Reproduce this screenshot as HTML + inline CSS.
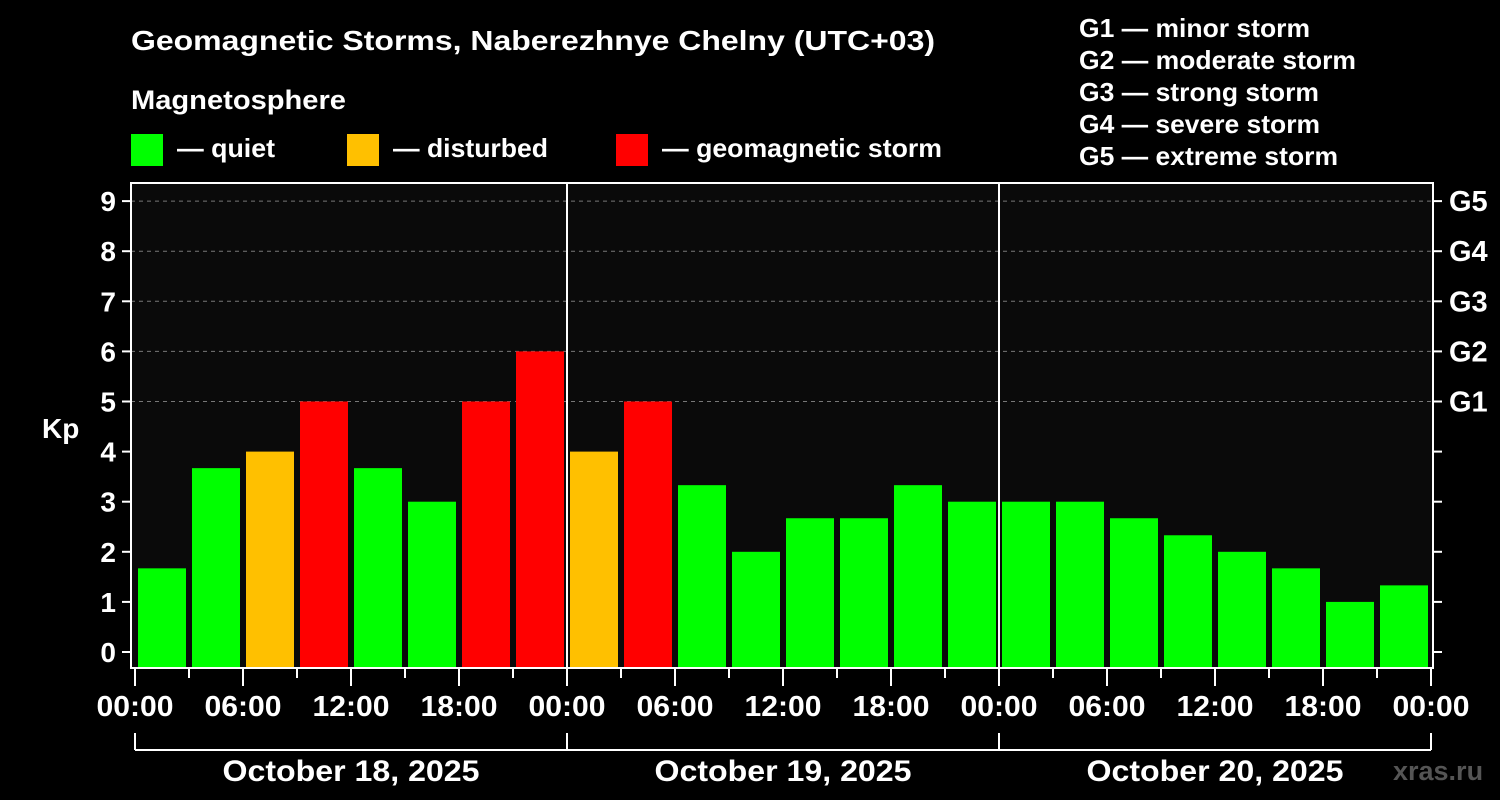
<!DOCTYPE html>
<html><head><meta charset="utf-8"><style>
html,body{margin:0;padding:0;background:#000;}
svg{display:block;font-family:"Liberation Sans",Arial,sans-serif;font-weight:bold;}
</style></head><body>
<svg id="c" width="1500" height="800" xmlns="http://www.w3.org/2000/svg">
<rect width="1500" height="800" fill="#000"/>
<text x="131" y="50" fill="#fff" font-size="28" textLength="804" lengthAdjust="spacingAndGlyphs">Geomagnetic Storms, Naberezhnye Chelny (UTC+03)</text>
<text x="131" y="109" fill="#fff" font-size="27" textLength="215" lengthAdjust="spacingAndGlyphs">Magnetosphere</text>
<g><rect x="131" y="134" width="32" height="32" fill="#00ff00"/><text x="177" y="157" fill="#fff" font-size="26" textLength="98" lengthAdjust="spacingAndGlyphs">— quiet</text></g>
<g><rect x="347" y="134" width="32" height="32" fill="#ffc000"/><text x="393" y="157" fill="#fff" font-size="26" textLength="155" lengthAdjust="spacingAndGlyphs">— disturbed</text></g>
<g><rect x="616" y="134" width="32" height="32" fill="#ff0000"/><text x="662" y="157" fill="#fff" font-size="26" textLength="280" lengthAdjust="spacingAndGlyphs">— geomagnetic storm</text></g>
<g fill="#fff" font-size="26" lengthAdjust="spacingAndGlyphs">
<text x="1079" y="37" textLength="231" lengthAdjust="spacingAndGlyphs">G1 — minor storm</text>
<text x="1079" y="69" textLength="277" lengthAdjust="spacingAndGlyphs">G2 — moderate storm</text>
<text x="1079" y="101" textLength="240" lengthAdjust="spacingAndGlyphs">G3 — strong storm</text>
<text x="1079" y="133" textLength="241" lengthAdjust="spacingAndGlyphs">G4 — severe storm</text>
<text x="1079" y="165" textLength="259" lengthAdjust="spacingAndGlyphs">G5 — extreme storm</text>
</g>
<rect x="131" y="183" width="1302" height="485" fill="#0a0a0a"/>
<g id="grid"></g>
<g id="bars"></g>
<g id="axes"></g>
<text x="42" y="438" fill="#fff" font-size="28">Kp</text>
<text x="1393" y="780" fill="#555" font-size="27">xras.ru</text>
</svg>
<script>
const kpValues=[1.67,3.67,4,5,3.67,3,5,6,4,5,3.33,2,2.67,2.67,3.33,3,3,3,2.67,2.33,2,1.67,1,1.33];
const yTicks=[0,1,2,3,4,5,6,7,8,9];
const gLabels=["G1","G2","G3","G4","G5"];
const xTickLabels=["00:00","06:00","12:00","18:00","00:00","06:00","12:00","18:00","00:00","06:00","12:00","18:00","00:00"];
const dayLabels=["October 18, 2025","October 19, 2025","October 20, 2025"];
const NS="http://www.w3.org/2000/svg";
const x0=135,slot=54;
const xs=i=>x0+i*slot;
const ys=v=>652-v*50.1;
function mk(t,a,p){const e=document.createElementNS(NS,t);for(const k in a)e.setAttribute(k,a[k]);p.appendChild(e);return e;}
const grid=document.getElementById('grid'),bars=document.getElementById('bars'),axes=document.getElementById('axes');
for(let v=5;v<=9;v++){const l=mk('line',{x1:131,x2:1433,y1:ys(v),y2:ys(v),stroke:'#777','stroke-dasharray':'4,4','stroke-width':1},grid);

}
kpValues.forEach((v,i)=>{const col=v>=5?'#ff0000':(v>=4?'#ffc000':'#00ff00');
const r=mk('rect',{x:xs(i)+3,y:ys(v),width:48,height:668-ys(v),fill:col},bars);

});
mk('rect',{x:131,y:183,width:1302,height:485,fill:'none',stroke:'#fff','stroke-width':2},axes);
[1,2].forEach(d=>{const l=mk('line',{x1:xs(d*8),x2:xs(d*8),y1:183,y2:668,stroke:'#fff','stroke-width':2},axes);

});
yTicks.forEach(v=>{mk('line',{x1:122,x2:131,y1:ys(v),y2:ys(v),stroke:'#fff','stroke-width':2},axes);
mk('line',{x1:1433,x2:1442,y1:ys(v),y2:ys(v),stroke:'#fff','stroke-width':2},axes);
const t=mk('text',{x:116,y:ys(v)+10,fill:'#fff','font-size':28,'text-anchor':'end'},axes);t.textContent=v;

});
gLabels.forEach((g,i)=>{const t=mk('text',{x:1449,y:ys(i+5)+10,fill:'#fff','font-size':29},axes);t.textContent=g;

});
for(let i=0;i<=24;i++){mk('line',{x1:xs(i),x2:xs(i),y1:668,y2:i%2?678:686,stroke:'#fff','stroke-width':2},axes);}
xTickLabels.forEach((s,i)=>{const t=mk('text',{x:xs(i*2),y:716,fill:'#fff','font-size':29,'text-anchor':'middle',textLength:77,lengthAdjust:'spacingAndGlyphs'},axes);t.textContent=s;

});
mk('line',{x1:xs(0),x2:xs(24),y1:750,y2:750,stroke:'#fff','stroke-width':2},axes);
for(let d=0;d<=3;d++)mk('line',{x1:xs(d*8),x2:xs(d*8),y1:733,y2:750,stroke:'#fff','stroke-width':2},axes);
dayLabels.forEach((s,d)=>{const t=mk('text',{x:xs(d*8+4),y:781,fill:'#fff','font-size':30,'text-anchor':'middle',textLength:257,lengthAdjust:'spacingAndGlyphs'},axes);t.textContent=s;

});
</script>
</body></html>
